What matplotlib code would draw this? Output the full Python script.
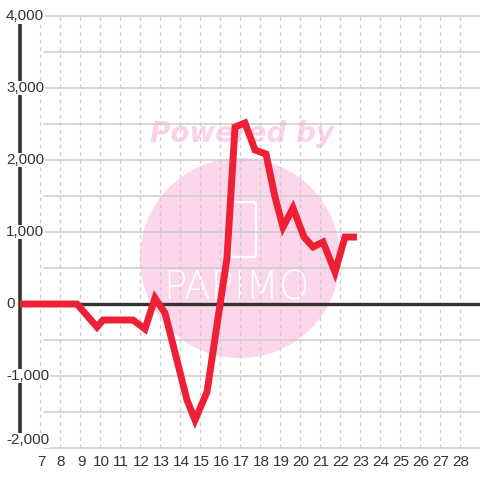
import matplotlib
matplotlib.use("Agg")
import matplotlib.pyplot as plt
from matplotlib.patches import Circle, FancyBboxPatch

# data
hours = [6.0, 8.85, 9.85, 10.15, 11.65, 12.25, 12.75, 13.25, 14.35, 14.75, 15.35,
         16.35, 16.75, 17.25, 17.75, 18.3, 18.75, 19.15, 19.65, 20.2, 20.65, 21.15,
         21.75, 22.25, 22.85]
values = [0, 0, -320, -222, -222, -347, 83, -125, -1333, -1611, -1222,
          639, 2458, 2514, 2139, 2083, 1486, 1069, 1333, 930, 792, 861,
          444, 930, 930]
x_ticks = list(range(7, 29))
y_ticks = [-2000, -1000, 0, 1000, 2000, 3000, 4000]
y_minor = [-1500, -500, 500, 1500, 2500, 3500]

plt.rcParams['font.family'] = ['Liberation Sans', 'DejaVu Sans']
fig = plt.figure(figsize=(4.8, 4.8), dpi=100)
fig.patch.set_facecolor('white')
ax = fig.add_axes([0, 0, 1, 1])
ax.set_xlim(5, 29)
ax.set_ylim(-2444, 4222)
ax.axis('off')

# watermark
pink = '#fcd6ea'
tf = fig.transFigure
ax.add_patch(Circle((240/480, 1-258/480), 100/480, transform=tf,
                    facecolor=pink, edgecolor='none', zorder=0))
ax.add_patch(FancyBboxPatch((231/480, 1-257/480), 25/480, 55/480,
                            boxstyle="round,pad=0,rounding_size=0.006",
                            transform=tf, facecolor='none',
                            edgecolor='white', linewidth=1.6, zorder=0.5))
ax.text(242/480, 1-134/480, 'Powered by', transform=tf, ha='center', va='center',
        fontsize=20, fontweight='bold', style='italic', color='#fbd2e8',
        family='DejaVu Sans', zorder=0.5)
ax.text(236/480, 1-289/480, 'PAPIMO', transform=tf, ha='center', va='center',
        fontsize=28, color='white', family='DejaVu Sans', fontweight='light',
        zorder=0.5)

# grid
for v in y_ticks + y_minor:
    ax.plot([7.2, 29], [v, v], color='#cccccc', lw=1.1, zorder=1)
for t in x_ticks:
    ax.plot([t, t], [-2000, 4000], color='#cccccc', lw=0.9, ls=(0, (3, 3)), zorder=1)

# axes lines
ax.plot([6, 6], [-2000, 3890], color='#333333', lw=2.6, zorder=2, solid_capstyle='butt')
ax.plot([6, 29], [0, 0], color='#333333', lw=2.4, zorder=2)

# data line
ax.plot(hours, values, color='#ee2036', lw=5.0, zorder=3, solid_joinstyle='miter',
        solid_capstyle='butt')

# tick labels
for v in y_ticks:
    ypos = v if v > -2000 else -1890
    ax.text(5.3, ypos, f"{v:,}", ha='left', va='center', fontsize=11, color='#333333',
            bbox=dict(facecolor='white', edgecolor='none', pad=0.3), zorder=4)
for t in x_ticks:
    ax.text(t + 0.05, -2190, str(t), ha='center', va='center', fontsize=11,
            color='#333333', zorder=4)

fig.savefig('out.png', dpi=100)
